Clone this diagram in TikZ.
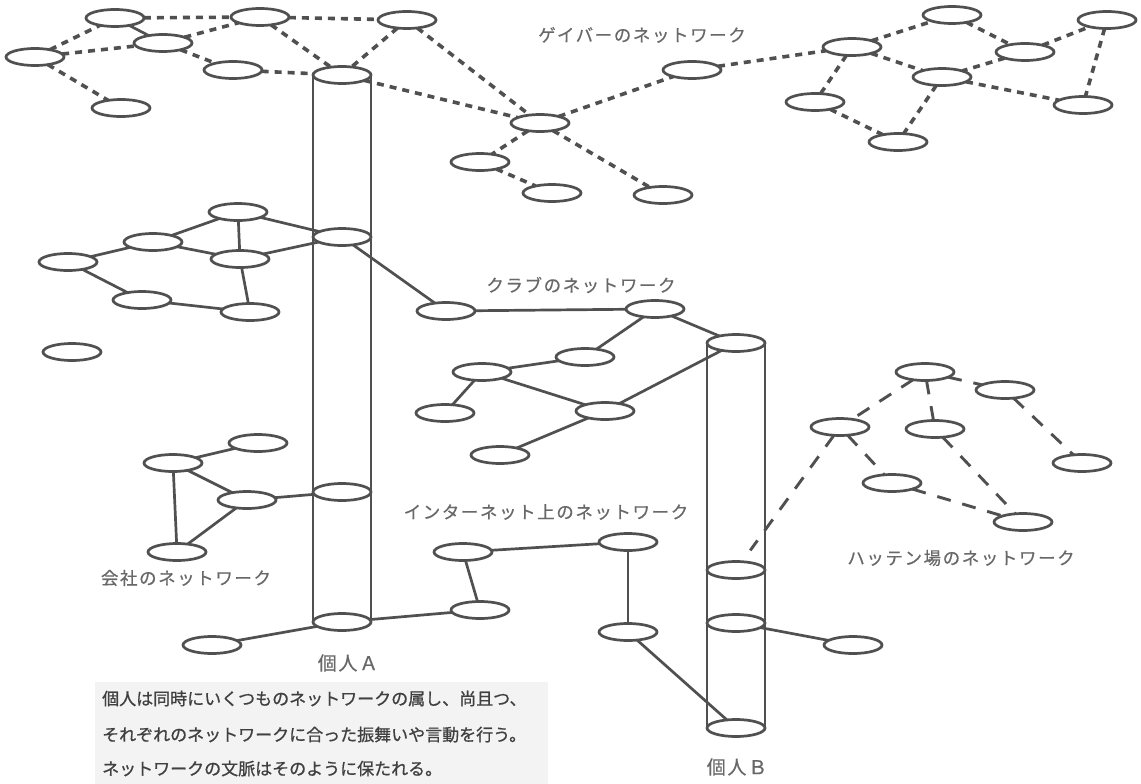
\documentclass[tikz,border=0pt]{standalone}
\usepackage{fontspec}
\setmainfont{Noto Sans CJK JP}
\newfontfamily\jp[FakeBold=0.8]{Noto Sans CJK JP}
\newfontfamily\jpl[LetterSpace=9,FakeBold=0.5]{Noto Sans CJK JP}
\usetikzlibrary{shapes.geometric}
\definecolor{ln}{HTML}{505050}
\definecolor{tx}{HTML}{686868}
\definecolor{captx}{HTML}{404040}
\definecolor{capbg}{HTML}{F3F3F3}
\begin{document}
\begin{tikzpicture}[x=1pt,y=-1pt,
  el/.style={draw=ln, line width=2.7pt, shape=ellipse, minimum width=58pt, minimum height=17pt, inner sep=0pt, outer sep=0pt},
  sl/.style={draw=ln, line width=2.7pt},
  gd/.style={draw=ln, line width=3.6pt, dash pattern=on 7pt off 6pt},
  hd/.style={draw=ln, line width=2.9pt, dash pattern=on 14pt off 12pt},
  lbl/.style={text=tx, font=\jpl\fontsize{17.5}{19}\selectfont, inner sep=0pt},
  capt/.style={text=captx, font=\jp\fontsize{17}{20}\selectfont, inner sep=0pt, anchor=base west},
  who/.style={text=tx, font=\jpl\fontsize{19}{21}\selectfont, inner sep=0pt}]
\useasboundingbox (0,0) rectangle (1141,784);
\fill[capbg] (95,682) rectangle (548,784);

% cylinder A
\node[el] (Atop) at (342,75) {};
\node[el] (A2) at (342,237) {};
\node[el] (A3) at (342,492) {};
\node[el] (Abot) at (342,622) {};
\draw[sl] (Atop.west) -- (Abot.west);
\draw[sl] (Atop.east) -- (Abot.east);
% cylinder B
\node[el] (Btop) at (736,343) {};
\node[el] (B1) at (736,570) {};
\node[el] (B2) at (736,623) {};
\node[el] (Bbot) at (736,728) {};
\draw[sl] (Btop.west) -- (Bbot.west);
\draw[sl] (Btop.east) -- (Bbot.east);

% gay bar network
\node[el] (E1) at (115,18) {};
\node[el] (E2) at (260,17) {};
\node[el] (E3) at (407,20) {};
\node[el] (E4) at (163,43) {};
\node[el] (E5) at (35,57) {};
\node[el] (E6) at (233,70) {};
\node[el] (E7) at (121,108) {};
\node[el] (G) at (540,123) {};
\node[el] (H) at (692,70) {};
\node[el] (G1) at (480,162) {};
\node[el] (G2) at (552,193) {};
\node[el] (G3) at (663,195) {};
\node[el] (R1) at (852,47) {};
\node[el] (R2) at (952,15) {};
\node[el] (R3) at (1025,52) {};
\node[el] (R4) at (1107,20) {};
\node[el] (R5) at (942,77) {};
\node[el] (R6) at (815,102) {};
\node[el] (R7) at (898,142) {};
\node[el] (R8) at (1083,105) {};
\foreach \a/\b in {E5/E1,E5/E4,E5/E7,E1/E2,E4/E2,E4/E6,E2/E3,E2/Atop,E3/Atop,E6/Atop,E3/G,Atop/G,G/H,G/G1,G1/G2,G/G3,H/R1,R1/R2,R1/R5,R1/R6,R2/R3,R3/R4,R3/R5,R4/R8,R5/R8,R5/R7,R6/R7}
  \draw[gd] (\a) -- (\b);
\draw[sl] (E1) -- (E4);

% left cluster and club network
\node[el] (L1) at (238,212) {};
\node[el] (L2) at (153,242) {};
\node[el] (L3) at (68,262) {};
\node[el] (L4) at (240,259) {};
\node[el] (L5) at (142,300) {};
\node[el] (L6) at (250,312) {};
\node[el] (L7) at (72,352) {};
\node[el] (K1) at (446,311) {};
\node[el] (K2) at (655,309) {};
\node[el] (K3) at (585,357) {};
\node[el] (K4) at (482,372) {};
\node[el] (K5) at (445,413) {};
\node[el] (K6) at (605,411) {};
\node[el] (K7) at (500,455) {};
\foreach \a/\b in {L3/L2,L2/L1,L2/L4,L1/L4,L1/A2,L4/A2,L3/L5,L5/L6,L4/L6,A2/K1,K1/K2,K2/Btop,K2/K3,K3/K4,K4/K5,K4/K6,K6/Btop,K6/K7}
  \draw[sl] (\a) -- (\b);

% company network
\node[el] (C1) at (258,443) {};
\node[el] (C2) at (173,463) {};
\node[el] (C3) at (247,500) {};
\node[el] (C4) at (177,552) {};
\node[el] (D1) at (212,645) {};
% internet network
\node[el] (I1) at (463,552) {};
\node[el] (I2) at (628,542) {};
\node[el] (I3) at (480,610) {};
\node[el] (I4) at (628,632) {};
\node[el] (I5) at (853,645) {};
\foreach \a/\b in {C2/C1,C2/C3,C2/C4,C3/C4,C3/A3,Abot/D1,Abot/I3,I1/I2,I1/I3,I2/I4,I4/Bbot,B2/I5}
  \draw[sl] (\a) -- (\b);

% hatten-ba network
\node[el] (H1) at (925,372) {};
\node[el] (H2) at (1005,390) {};
\node[el] (H3) at (840,427) {};
\node[el] (H4) at (935,429) {};
\node[el] (H5) at (1082,463) {};
\node[el] (H6) at (892,483) {};
\node[el] (H7) at (1023,522) {};
\foreach \a/\b in {H1/H3,H1/H2,H1/H4,H2/H5,H3/H6,H6/H7,H4/H7}
  \draw[hd] (\a) -- (\b);
\draw[hd, shorten >=14pt] (H3) -- (B1);

% labels
\node[lbl] (tg) at (642,35) {ゲイバーのネットワーク};
\node[lbl] (tk) at (581,285) {クラブのネットワーク};
\node[lbl] (ti) at (546,512) {インターネット上のネットワーク};
\node[lbl] (th) at (961,558) {ハッテン場のネットワーク};
\node[lbl] (tc) at (186,578) {会社のネットワーク};
\node[who] (pa) at (348,663) {個人Ａ};
\node[who] (pb) at (737,767) {個人Ｂ};
\node[capt] (c1) at (102,705) {個人は同時にいくつものネットワークの属し、尚且つ、};
\node[capt] (c2) at (102,741) {それぞれのネットワークに合った振舞いや言動を行う。};
\node[capt] (c3) at (102,775) {ネットワークの文脈はそのように保たれる。};
\end{tikzpicture}
\end{document}
